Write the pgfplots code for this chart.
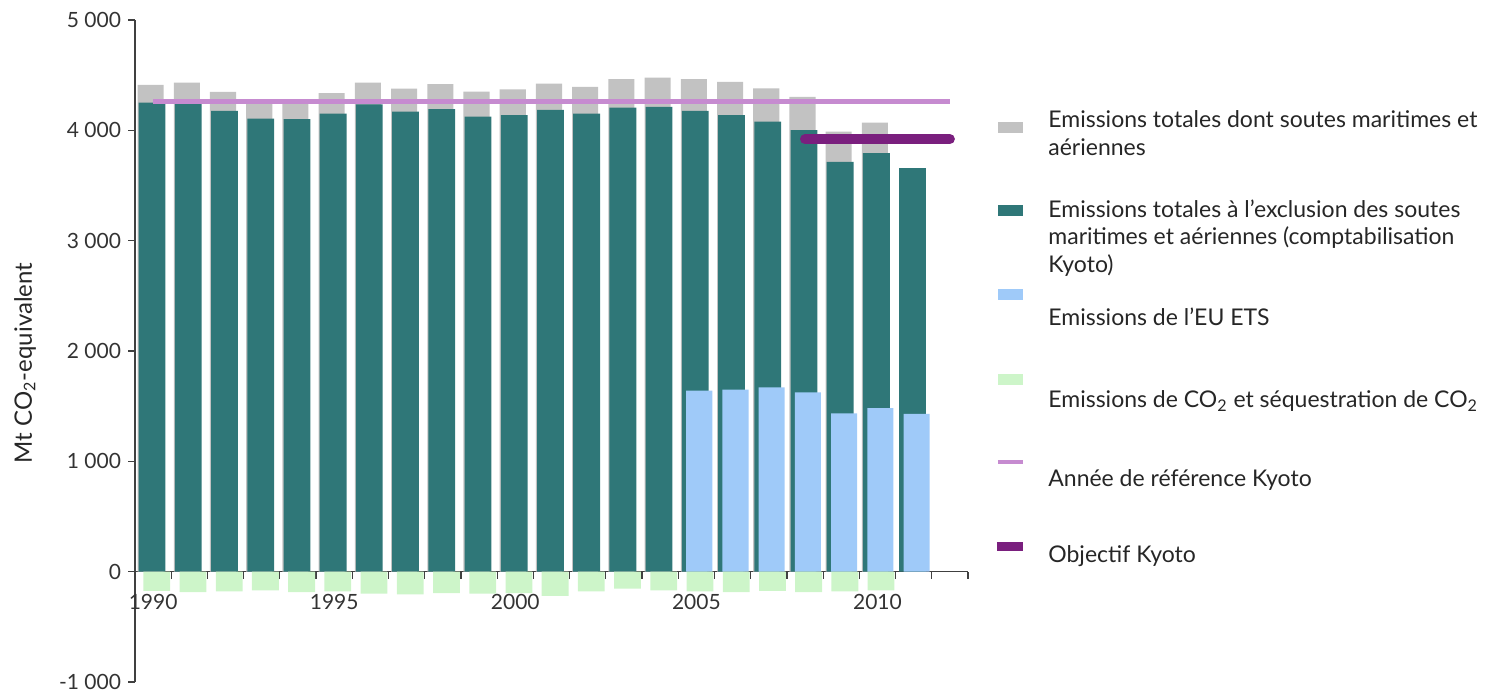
\documentclass[border=0pt]{standalone}
\usepackage{pgfplots}
\pgfplotsset{compat=1.18}
\usepackage{fontspec}
\setmainfont{Lato}

\definecolor{cTot}{HTML}{C2C2C2}
\definecolor{cKyo}{HTML}{2F7778}
\definecolor{cEts}{HTML}{9FCAF9}
\definecolor{cPuits}{HTML}{CDF5C9}
\definecolor{cRef}{HTML}{C68BD0}
\definecolor{cObj}{HTML}{7A1F7E}
\definecolor{cAxe}{HTML}{404040}

\begin{document}
\begin{tikzpicture}
\begin{axis}[
	scale only axis,
	width=416.5pt, height=331pt,
	xmin=-0.5, xmax=22.5,
	ymin=-1000, ymax=5000,
	axis x line=middle, axis y line=left,
	axis line style={-, draw=cAxe, line width=0.8pt},
	hide obscured x ticks=false, hide obscured y ticks=false,
	tick align=outside,
	major tick length=3.5pt,
	tick style={draw=cAxe, line width=0.6pt},
	ytick={-1000,0,...,5000},
	xtick={-0.5,0.5,...,22.5},
	xticklabels={},
	extra x ticks={0,5,10,15,20},
	extra x tick labels={1990,1995,2000,2005,2010},
	extra x tick style={major tick length=0pt, tick label style={anchor=base, yshift=-19pt}},
	tick label style={font=\fontsize{10.5}{12}\selectfont, text=black!80},
	/pgf/number format/assume math mode=true,
	/pgf/number format/1000 sep={\ },
	ylabel={Mt CO\textsubscript{2}-equivalent},
	ylabel style={at={(axis description cs:-0.132,0.482)}, anchor=center,
		font=\fontsize{12}{14}\selectfont, text=black!85},
]
% emissions totales avec soutes
\addplot[ybar, bar width=0.72, bar shift=-0.07, fill=cTot, draw=none]
	coordinates {(0,4411) (1,4432) (2,4348) (3,4262) (4,4258) (5,4336) (6,4432) (7,4378) (8,4418) (9,4351) (10,4372)
	(11,4423) (12,4393) (13,4463) (14,4477) (15,4463) (16,4438) (17,4381) (18,4303) (19,3988) (20,4070)};
% comptabilisation Kyoto
\addplot[ybar, bar width=0.74, bar shift=-0.03, fill=cKyo, draw=none]
	coordinates {(0,4251) (1,4242) (2,4176) (3,4106) (4,4101) (5,4151) (6,4236) (7,4169) (8,4191) (9,4124) (10,4137)
	(11,4185) (12,4151) (13,4206) (14,4212) (15,4176) (16,4137) (17,4079) (18,4001) (19,3714) (20,3793) (21,3657)};
% EU ETS
\addplot[ybar, bar width=0.72, bar shift=0.08, fill=cEts, draw=none]
	coordinates {(15,1640) (16,1649) (17,1669) (18,1624) (19,1434) (20,1483) (21,1430)};
% puits
\addplot[ybar, bar width=0.74, bar shift=0.1, fill=cPuits, draw=none]
	coordinates {(0,-175) (1,-185) (2,-180) (3,-170) (4,-185) (5,-180) (6,-200) (7,-205) (8,-195) (9,-200) (10,-195)
	(11,-220) (12,-180) (13,-155) (14,-170) (15,-180) (16,-185) (17,-175) (18,-185) (19,-180) (20,-170)};
% annee de reference
\addplot[cRef, line width=2.5pt] coordinates {(0,4265) (22,4265)};
% objectif
\addplot[cObj, line width=5pt, line cap=round] coordinates {(18,3920) (22,3920)};

\coordinate (lg) at (rel axis cs:0,1);
\coordinate (bl) at (rel axis cs:-0.1621,-0.0121);
\coordinate (tr) at (rel axis cs:1.6243,1.0302);
\end{axis}
\path (bl) rectangle (tr);
% legende
\begin{scope}[shift={(lg)}, x=1pt, y=1pt,
	every node/.style={anchor=west, align=left, inner sep=0pt,
		font=\fontsize{11.5}{13.75}\selectfont, text=black!85}]
	\fill[cTot]   (431.5,-51)   rectangle (444,-56.5);
	\fill[cKyo]   (431.5,-92.3) rectangle (444,-97.8);
	\fill[cEts]   (431.5,-134.3) rectangle (444,-139.8);
	\fill[cPuits] (431.5,-177)  rectangle (444,-182.5);
	\draw[cRef, line width=2pt] (431.5,-221) -- (444,-221);
	\draw[cObj, line width=4.5pt] (431,-263.3) -- (444,-263.3);
	\node at (456.5,-56.5) {Emissions totales dont soutes maritimes et\\aériennes};
	\node at (456.5,-109) {Emissions totales à l’exclusion des soutes\\maritimes et aériennes (comptabilisation\\Kyoto)};
	\node at (456.5,-148.5) {Emissions de l’EU ETS};
	\node at (456.5,-190.5) {Emissions de CO\textsubscript{2} et séquestration de CO\textsubscript{2}};
	\node at (456.5,-230) {Année de référence Kyoto};
	\node at (456.5,-268) {Objectif Kyoto};
\end{scope}
\end{tikzpicture}
\end{document}
